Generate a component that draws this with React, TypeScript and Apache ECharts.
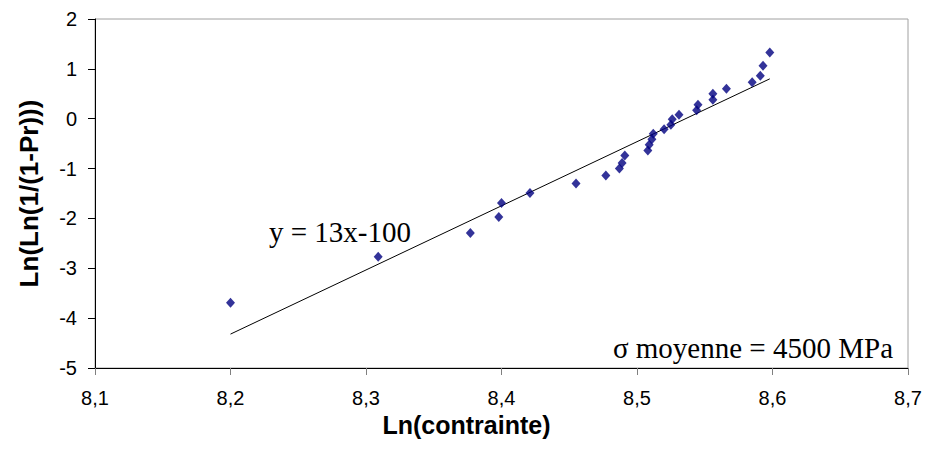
import React, { useEffect, useRef } from "react";
import * as echarts from "echarts";

const pointsX = [
  8.2, 8.309, 8.377, 8.398, 8.4, 8.421, 8.455, 8.477, 8.487, 8.489, 8.491,
  8.508, 8.509, 8.511, 8.512, 8.52, 8.525, 8.526, 8.531, 8.544, 8.545, 8.556,
  8.556, 8.566, 8.585, 8.591, 8.593, 8.598,
];
const pointsY = [
  -3.69, -2.77, -2.29, -1.97, -1.69, -1.49, -1.3, -1.14, -1.0, -0.89, -0.74,
  -0.64, -0.52, -0.41, -0.3, -0.21, -0.12, -0.01, 0.08, 0.17, 0.28, 0.38, 0.5,
  0.6, 0.73, 0.86, 1.06, 1.33,
];
const trendX = [8.2, 8.598];
const trendY = [-4.32, 0.8];
const xTicks = [8.1, 8.2, 8.3, 8.4, 8.5, 8.6, 8.7];
const yTicks = [-5, -4, -3, -2, -1, 0, 1, 2];
const equationText = "y = 13x-100";
const sigmaText = "σ moyenne = 4500 MPa";
const xTitle = "Ln(contrainte)";
const yTitle = "Ln(Ln(1/(1-Pr)))";

export default function App() {
  const ref = useRef<HTMLDivElement>(null);
  useEffect(() => {
    document.body.style.margin = "0";
    const chart = echarts.init(ref.current!, undefined, { renderer: "svg" });
    const sans = "'Liberation Sans', Arial, sans-serif";
    const serif = "'Liberation Serif', 'Times New Roman', serif";
    chart.setOption({
      animation: false,
      backgroundColor: "#ffffff",
      grid: {
        left: 95,
        right: 20,
        top: 19,
        bottom: 98,
        containLabel: false,
        outerBoundsMode: "none",
        show: true,
        borderColor: "#a0a0a0",
        borderWidth: 1,
        backgroundColor: "transparent",
      },
      xAxis: {
        type: "value",
        min: xTicks[0],
        max: xTicks[xTicks.length - 1],
        interval: 0.1,
        name: xTitle,
        nameLocation: "middle",
        nameGap: 39,
        nameTextStyle: {
          fontFamily: sans,
          fontSize: 25,
          fontWeight: "bold",
          color: "#000",
          padding: [0, 70, 0, 0],
        },
        axisLine: { show: true, onZero: false, lineStyle: { color: "#000", width: 1 } },
        axisTick: { show: true, length: 7, lineStyle: { color: "#808080" } },
        splitLine: { show: false },
        axisLabel: {
          margin: 20,
          fontFamily: sans,
          fontSize: 20,
          color: "#000",
          formatter: (v: number) => v.toFixed(1).replace(".", ","),
        },
      },
      yAxis: {
        type: "value",
        min: yTicks[0],
        max: yTicks[yTicks.length - 1],
        interval: 1,
        name: yTitle,
        nameLocation: "middle",
        nameGap: 53,
        nameTextStyle: { fontFamily: sans, fontSize: 26, fontWeight: "bold", color: "#000" },
        axisLine: { show: true, onZero: false, lineStyle: { color: "#000", width: 1 } },
        axisTick: { show: true, length: 7, lineStyle: { color: "#000" } },
        splitLine: { show: false },
        axisLabel: {
          margin: 18,
          fontFamily: sans,
          fontSize: 20,
          color: "#000",
        },
      },
      series: [
        {
          type: "line",
          data: trendX.map((x, i) => [x, trendY[i]]),
          showSymbol: false,
          symbol: "none",
          lineStyle: { color: "#000", width: 1 },
          silent: true,
          z: 2,
        },
        {
          type: "scatter",
          data: pointsX.map((x, i) => [x, pointsY[i]]),
          symbol: "diamond",
          symbolSize: [9, 10],
          itemStyle: { color: "#000080" },
          z: 3,
        },
      ],
      graphic: [
        {
          type: "text",
          left: 269,
          top: 233 - 16,
          style: {
            text: equationText,
            fontFamily: serif,
            fontSize: 29,
            fill: "#000",
          },
        },
        {
          type: "text",
          right: 928 - 893,
          top: 349 - 16,
          style: {
            text: sigmaText,
            fontFamily: serif,
            fontSize: 29,
            fill: "#000",
          },
        },
      ],
    });
    return () => chart.dispose();
  }, []);
  return <div ref={ref} style={{ width: 928, height: 466 }} />;
}
